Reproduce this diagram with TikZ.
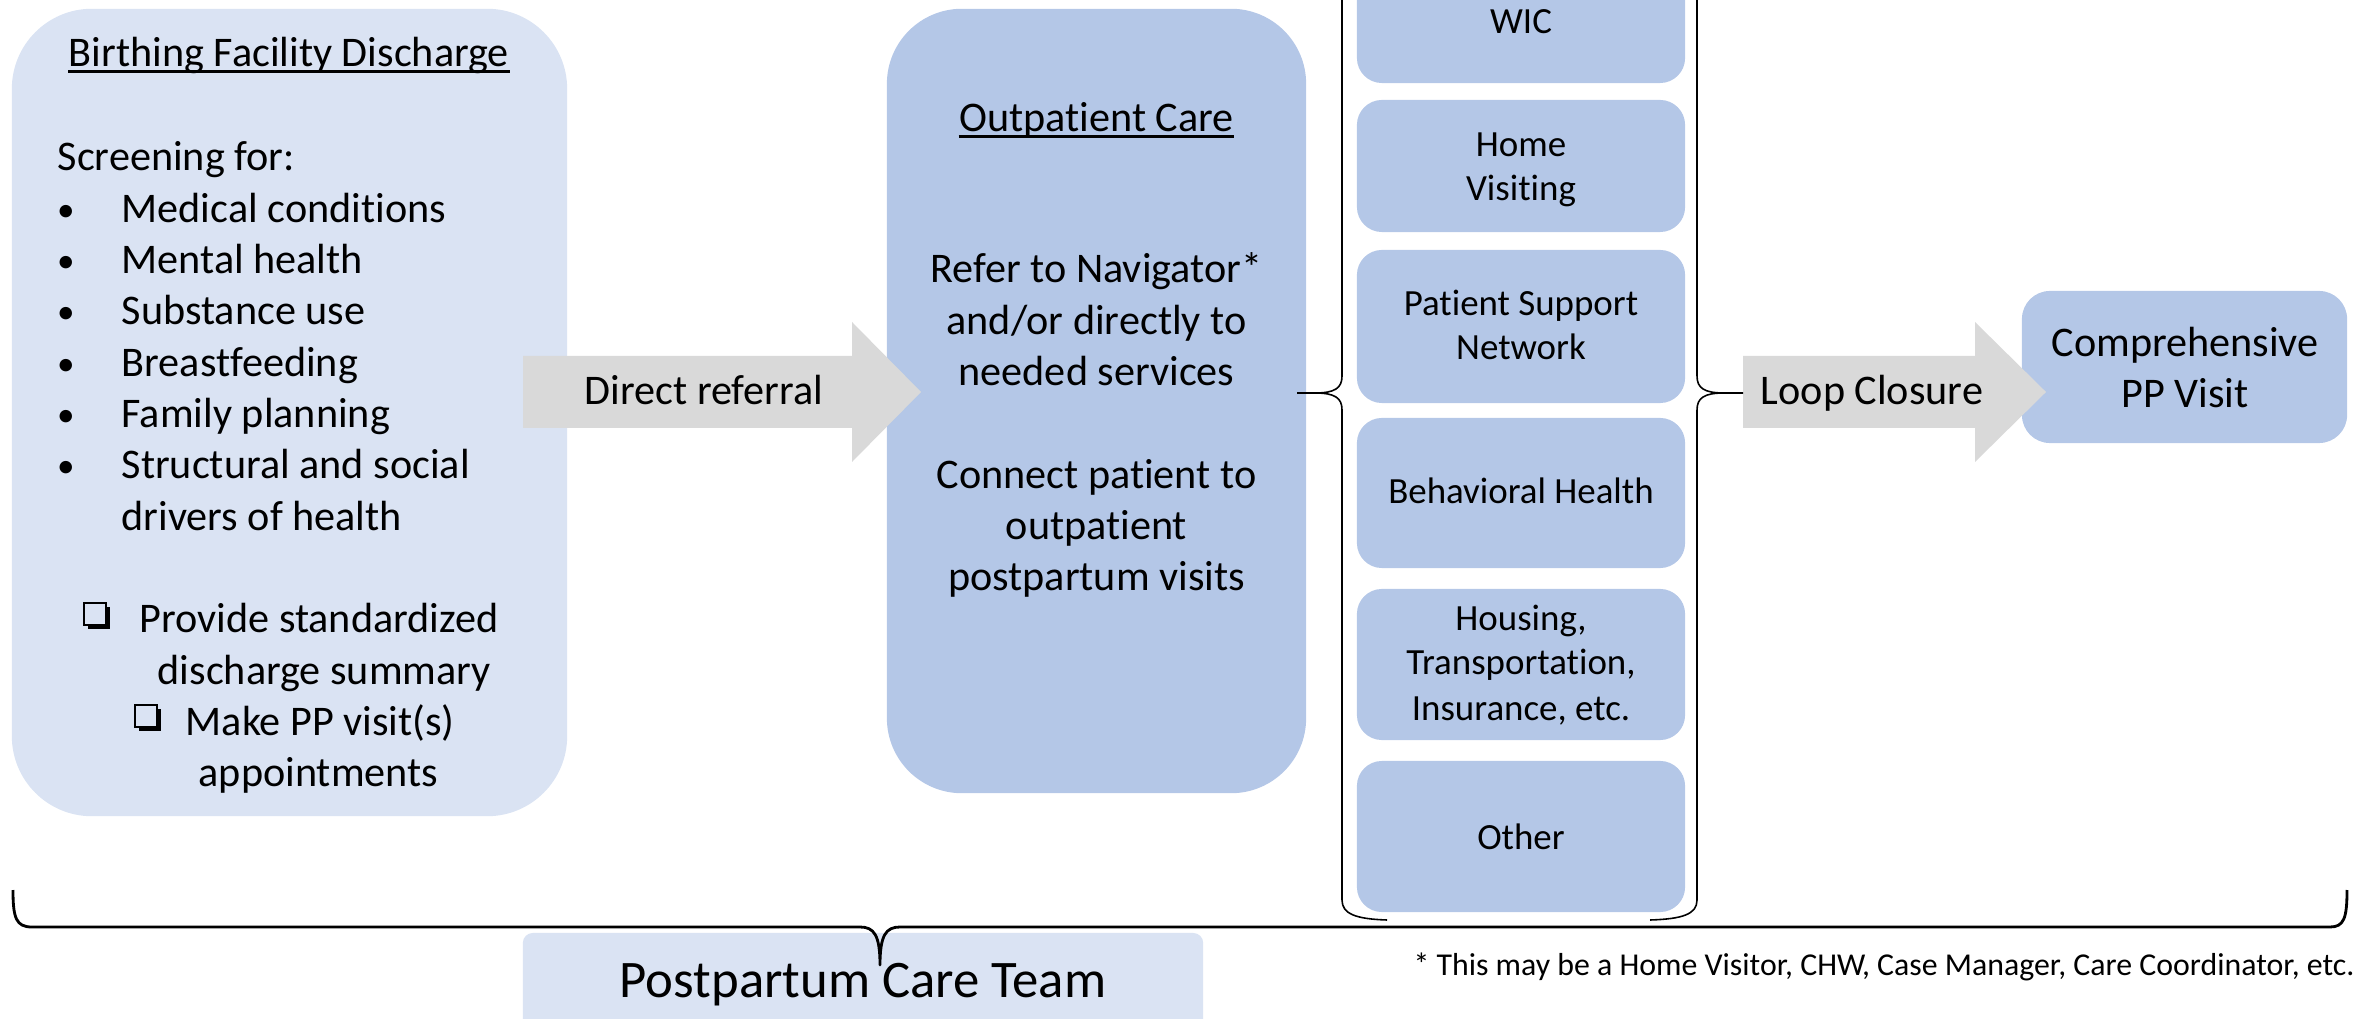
\documentclass[tikz,border=0pt]{standalone}
\usepackage{fontspec}
\setmainfont{Carlito}[Ligatures=NoCommon]
\definecolor{boxlight}{HTML}{DAE3F3}
\definecolor{boxmid}{HTML}{B4C7E7}
\definecolor{arrowgrey}{HTML}{D9D9D9}
\begin{document}
\begin{tikzpicture}[x=0.01cm, y=-0.01cm,
  bodytxt/.style={font=\fontsize{12}{14.6}\selectfont, inner sep=0pt},
  svctxt/.style={font=\fontsize{10.5}{12.6}\selectfont, inner sep=0pt, anchor=base},
  lefttxt/.style={bodytxt, anchor=base west},
  midtxt/.style={bodytxt, anchor=base},
  bulletmark/.style={font=\fontsize{10}{12}\selectfont, inner sep=0pt, anchor=base},
  panel/.style={rectangle, inner sep=0pt, draw=none},
  dischargebox/.style={panel, fill=boxlight, rounded corners=0.8cm},
  outbox/.style={panel, fill=boxmid, rounded corners=0.75cm},
  svcbox/.style={panel, fill=boxmid, rounded corners=0.25cm, minimum width=3.28cm},
  blockarrow/.style={fill=arrowgrey, draw=none},
  brace/.style={draw=black, line width=0.45pt},
  bigbrace/.style={draw=black, line width=0.8pt, line join=round},
  ulinestyle/.style={line width=0.65pt},
  chkshadow/.style={rectangle, fill=black, minimum size=0.22cm, inner sep=0pt},
  chk/.style={rectangle, draw=black, fill=boxlight, line width=0.55pt, minimum size=0.22cm, inner sep=0pt}
]
\useasboundingbox (0,0) rectangle (2364,1019);
\clip (0,0) rectangle (2364,1019);

% ---------- main panels ----------
\node[dischargebox, minimum width=5.55cm, minimum height=8.07cm] (bfd) at (289.5,412.5) {};
\node[outbox, minimum width=4.19cm, minimum height=7.84cm] (opc) at (1096.5,401) {};

% ---------- services column ----------
\node[svcbox, minimum height=1.50cm] (wic)  at (1521,8) {};
\node[svcbox, minimum height=1.32cm] (home) at (1521,166) {};
\node[svcbox, minimum height=1.53cm] (psn)  at (1521,326.5) {};
\node[svcbox, minimum height=1.50cm] (bh)   at (1521,493) {};
\node[svcbox, minimum height=1.51cm] (hti)  at (1521,664.5) {};
\node[svcbox, minimum height=1.51cm] (oth)  at (1521,836.5) {};

\node[svctxt] (wicT) at (1521,34) {WIC};
\node[svctxt] (homeT1) at (1521,157) {Home};
\node[svctxt] (homeT2) at (1521,201) {Visiting};
\node[svctxt] (psnT1) at (1521,316) {Patient Support};
\node[svctxt] (psnT2) at (1521,360) {Network};
\node[svctxt] (bhT) at (1521,504) {Behavioral Health};
\node[svctxt] (htiT1) at (1521,630) {Housing,};
\node[svctxt] (htiT2) at (1521,675) {Transportation,};
\node[svctxt] (htiT3) at (1521,720) {Insurance, etc.};
\node[svctxt] (othT) at (1521,849) {Other};

% ---------- comprehensive visit ----------
\node[panel, fill=boxmid, rounded corners=0.28cm, minimum width=3.25cm, minimum height=1.52cm] (cpp) at (2184.5,367) {};
\node[midtxt] (cppT1) at (2185,357) {Comprehensive};
\node[midtxt] (cppT2) at (2185,408) {PP Visit};

% ---------- block arrows ----------
\path[blockarrow] (523,356) -- (852,356) -- (852,322) -- (921,392) -- (852,462) -- (852,428) -- (523,428) -- cycle;
\node[midtxt] (refer) at (704,405) {Direct referral};
\path[blockarrow] (1743,356) -- (1975,356) -- (1975,322) -- (2046,392) -- (1975,462) -- (1975,428) -- (1743,428) -- cycle;
\node[midtxt] (loop) at (1872,405) {Loop Closure};

% ---------- discharge panel text ----------
\node[midtxt] (bfdT) at (289,67) {Birthing Facility Discharge};
\draw[ulinestyle] ([yshift=-0.045cm]bfdT.base west) -- ([yshift=-0.045cm]bfdT.base east);
\node[lefttxt] (scr) at (57,171) {Screening for:};
\foreach \k/\t [count=\i] in {1/Medical conditions, 2/Mental health, 3/Substance use,
    4/Breastfeeding, 5/Family planning, 6/Structural and social} {
  \node[bulletmark] (bul\i) at (66,170+51.3*\k) {\textbullet};
  \node[lefttxt] (item\i) at (121,171+51.3*\k) {\t};
}
\node[lefttxt] (item7) at (121,530.1) {drivers of health};

\node[chkshadow] (cb1s) at (99,618) {};
\node[chk] (cb1) at (95,614) {};
\node[lefttxt] (task1a) at (139,632.7) {Provide standardized};
\node[lefttxt] (task1b) at (157,684) {discharge summary};
\node[chkshadow] (cb2s) at (150,720) {};
\node[chk] (cb2) at (146,716) {};
\node[lefttxt] (task2a) at (185,735.3) {Make PP visit(s)};
\node[lefttxt] (task2b) at (198,786.6) {appointments};

% ---------- outpatient panel text ----------
\node[midtxt] (opcT) at (1096.5,132) {Outpatient Care};
\draw[ulinestyle] ([yshift=-0.045cm]opcT.base west) -- ([yshift=-0.045cm]opcT.base east);
\node[midtxt] (op1) at (1096.5,283) {Refer to Navigator*};
\node[midtxt] (op2) at (1096.5,334.3) {and/or directly to};
\node[midtxt] (op3) at (1096.5,385.6) {needed services};
\node[midtxt] (op4) at (1096.5,488.2) {Connect patient to};
\node[midtxt] (op5) at (1096.5,539.5) {outpatient};
\node[midtxt] (op6) at (1096.5,590.8) {postpartum visits};

% ---------- braces around the services ----------
\coordinate (ltip) at (1297,393);
\coordinate (rtip) at (1743,393);
\draw[brace] (1387,920) .. controls (1356,919) and (1342,914) .. (1342,900)
  -- (1342,410) .. controls (1342,398) and (1335,393) .. (1315,393) -- (ltip);
\draw[brace] (1315,393) .. controls (1335,393) and (1342,388) .. (1342,376)
  -- (1342,-114) .. controls (1342,-128) and (1356,-133) .. (1387,-134);
\draw[brace] (1650,920) .. controls (1683,919) and (1697,914) .. (1697,900)
  -- (1697,410) .. controls (1697,398) and (1704,393) .. (1724,393) -- (rtip);
\draw[brace] (1724,393) .. controls (1704,393) and (1697,388) .. (1697,376)
  -- (1697,-114) .. controls (1697,-128) and (1683,-133) .. (1650,-134);

% ---------- care team ----------
\node[panel, fill=boxlight, rounded corners=0.1cm, minimum width=6.8cm, minimum height=1.07cm] (team) at (863,986.5) {};
\node[anchor=base, inner sep=0pt, font=\fontsize{15}{18}\selectfont] (teamT) at (863,997) {Postpartum Care Team};
\coordinate (btip) at (880,965);
\draw[bigbrace] (13,890) .. controls (13,918) and (16,927) .. (32,927) -- (860,927)
  .. controls (874,927) and (880,935) .. (btip)
  .. controls (880,935) and (886,927) .. (900,927) -- (2330,927)
  .. controls (2344,927) and (2347,918) .. (2347,890);

% ---------- footnote ----------
\node[anchor=base east, inner sep=0pt, font=\fontsize{9.05}{10.9}\selectfont] (note) at (2355,975)
  {* This may be a Home Visitor, CHW, Case Manager, Care Coordinator, etc.};
\end{tikzpicture}
\end{document}
